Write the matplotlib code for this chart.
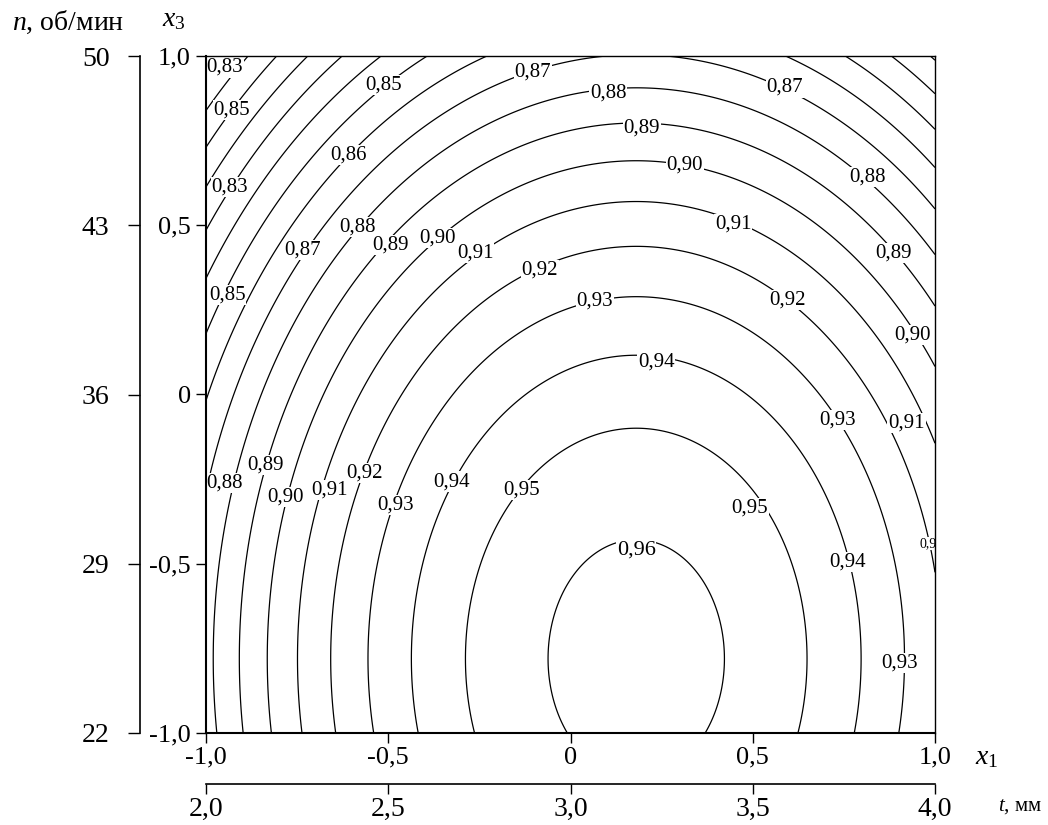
import numpy as np
import matplotlib
matplotlib.use("Agg")
import matplotlib.pyplot as plt

plt.rcParams['font.family'] = ['Liberation Serif', 'DejaVu Serif']
plt.rcParams['mathtext.fontset'] = 'custom'
plt.rcParams['mathtext.rm'] = 'Liberation Serif'
plt.rcParams['mathtext.it'] = 'Liberation Serif:italic'

# Regression model  y = b0 + b1*x1 + b3*x3 + b11*x1^2 + b33*x3^2 + b13*x1*x3
b0, b1, b3 = 0.9437, 0.0224, -0.0459
b11, b33, b13 = -0.0621, -0.0294, 0.0

levels = [0.80, 0.81, 0.82, 0.83, 0.84, 0.85, 0.86, 0.87, 0.88,
          0.89, 0.90, 0.91, 0.92, 0.93, 0.94, 0.95, 0.96]

x1_ticks = [-1.0, -0.5, 0.0, 0.5, 1.0]
x1_ticklabels = ['-1,0', '-0,5', '0', '0,5', '1,0']
x3_ticks = [-1.0, -0.5, 0.0, 0.5, 1.0]
x3_ticklabels = ['-1,0', '-0,5', '0', '0,5', '1,0']
t_ticks = [2.0, 2.5, 3.0, 3.5, 4.0]
t_ticklabels = ['2,0', '2,5', '3,0', '3,5', '4,0']
n_ticks = [22, 29, 36, 43, 50]
n_ticklabels = ['22', '29', '36', '43', '50']

# contour labels as printed on the chart (position in x1, x3 and text)
label_x1 = [-0.948, -0.929, -0.934, -0.942, -0.514, -0.610, -0.734, -0.583,
            -0.495, -0.366, -0.262, -0.084, -0.103, 0.103, 0.196, 0.314,
            0.446, 0.588, 0.816, 0.885, 0.937, 0.922, 0.594, 0.067, 0.235,
            0.734, -0.948, -0.838, -0.783, -0.660, -0.564, -0.481, -0.325,
            -0.133, 0.492, 0.180, 0.761, 0.904]
label_x3 = [0.967, 0.840, 0.613, 0.294, 0.914, 0.708, 0.427, 0.495,
            0.442, 0.462, 0.418, 0.368, 0.953, 0.891, 0.787, 0.678,
            0.504, 0.907, 0.643, 0.418, 0.176, -0.084, 0.279, 0.276, 0.096,
            -0.075, -0.261, -0.208, -0.303, -0.282, -0.232, -0.326, -0.258,
            -0.282, -0.335, -0.459, -0.495, -0.793]
label_text = ['0,83', '0,85', '0,83', '0,85', '0,85', '0,86', '0,87', '0,88',
              '0,89', '0,90', '0,91', '0,92', '0,87', '0,88', '0,89', '0,90',
              '0,91', '0,87', '0,88', '0,89', '0,90', '0,91', '0,92', '0,93', '0,94',
              '0,93', '0,88', '0,89', '0,90', '0,91', '0,92', '0,93', '0,94',
              '0,95', '0,95', '0,96', '0,94', '0,93']
edge_label = ('0,92', 0.992, -0.44)

W, H = 1048, 825
fig = plt.figure(figsize=(W / 100, H / 100), dpi=100)

L, R, T, B = 206, 935, 56, 733
ax = fig.add_axes([L / W, 1 - B / H, (R - L) / W, (B - T) / H])

g1 = np.linspace(-1, 1, 401)
g3 = np.linspace(-1, 1, 401)
X1, X3 = np.meshgrid(g1, g3)
Y = b0 + b1 * X1 + b3 * X3 + b11 * X1 ** 2 + b33 * X3 ** 2 + b13 * X1 * X3

cs = ax.contour(X1, X3, Y, levels=levels, colors='black', linewidths=0.9)
ax.set_xlim(-1, 1)
ax.set_ylim(-1, 1)

positions = list(zip(label_x1, label_x3))
texts = ax.clabel(cs, manual=positions, inline=False,
                  fontsize=15, fmt=lambda v: f"{v:.2f}".replace('.', ','))
for t, s, p in zip(texts, label_text, positions):
    t.set_text(s)
    t.set_rotation(0)
    t.set_position(p)
    t.set_clip_on(False)
    t.set_bbox(dict(facecolor='white', edgecolor='none', pad=0.6))
    if s == '0,96':
        t.set_fontsize(16)

ax.text(edge_label[1], edge_label[2], edge_label[0], fontsize=10,
        ha='center', va='center', clip_on=True, zorder=4,
        bbox=dict(facecolor='white', edgecolor='none', pad=0.3))

ax.set_xticks(x1_ticks)
ax.set_xticklabels(x1_ticklabels)
ax.set_yticks(x3_ticks)
ax.set_yticklabels(x3_ticklabels)
ax.tick_params(axis='x', direction='out', length=7, width=1.0, labelsize=19, pad=3)
ax.tick_params(axis='y', direction='out', length=7, width=1.0, labelsize=19, pad=4)
for sp in ['left', 'bottom']:
    ax.spines[sp].set_linewidth(1.5)
    ax.spines[sp].set_zorder(5)
for sp in ['top', 'right']:
    ax.spines[sp].set_linewidth(1.0)
    ax.spines[sp].set_zorder(5)

# n axis (rpm)
NX = 140
axn = fig.add_axes([NX / W, 1 - B / H, 0.0001, (B - T) / H])
axn.set_ylim(22, 50)
axn.set_yticks(n_ticks)
axn.set_yticklabels(n_ticklabels)
axn.set_xticks([])
for sp in ['top', 'right', 'bottom']:
    axn.spines[sp].set_visible(False)
axn.spines['left'].set_linewidth(1.2)
axn.tick_params(axis='y', direction='out', length=9, width=1.0, labelsize=20, pad=13)
axn.patch.set_visible(False)

# t axis (mm)
TY = 784
axt = fig.add_axes([L / W, 1 - TY / H, (R - L) / W, 0.0001])
axt.set_xlim(2, 4)
axt.set_xticks(t_ticks)
axt.set_xticklabels(t_ticklabels)
axt.set_yticks([])
for sp in ['top', 'right', 'left']:
    axt.spines[sp].set_visible(False)
axt.spines['bottom'].set_linewidth(1.2)
axt.tick_params(axis='x', direction='out', length=7, width=1.0, labelsize=20, pad=2)
axt.patch.set_visible(False)

fig.text(12 / W, 1 - 22 / H, r'$n$, об/мин', fontsize=20, ha='left', va='center')
fig.text(162 / W, 1 - 20 / H, r'$x_3$', fontsize=20, ha='left', va='center')
fig.text(975 / W, 1 - 758 / H, r'$x_1$', fontsize=20, ha='left', va='center')
fig.text(998 / W, 1 - 806 / H, r'$t$, мм', fontsize=15, ha='left', va='center')

fig.savefig('out.png', dpi=100, facecolor='white')
